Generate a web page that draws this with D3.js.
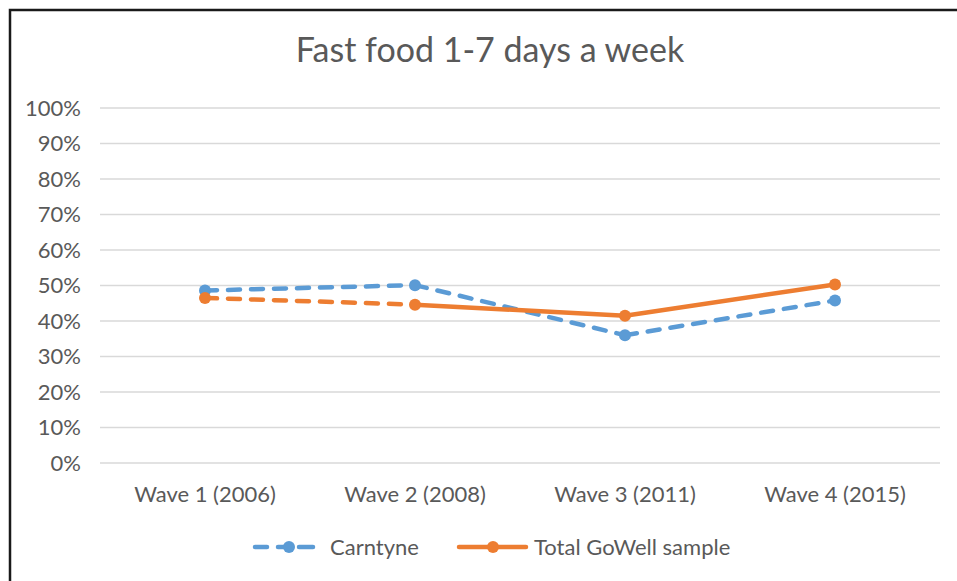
<!DOCTYPE html>
<html>
<head>
<meta charset="utf-8">
<script src="https://cdn.jsdelivr.net/npm/d3@7"></script>
<style>
  body { margin: 0; background: #fff; }
  text { font-family: Lato, "Open Sans", sans-serif; fill: #595959; }
</style>
</head>
<body>
<script>
const waves = ['Wave 1 (2006)', 'Wave 2 (2008)', 'Wave 3 (2011)', 'Wave 4 (2015)'];
const carntyne = [48.6, 50.1, 36.0, 45.8];
const totalGoWell = [46.5, 44.6, 41.5, 50.3];
const yTicks = [0, 10, 20, 30, 40, 50, 60, 70, 80, 90, 100];
const seriesNames = ['Carntyne', 'Total GoWell sample'];

const svgValues = {
    width: 957,
    height: 581,
    padding: { top: 108, bottom: 118, left: 100, right: 17 }
}

const series = [
    { name: seriesNames[0], values: carntyne, color: '#5b9bd5', dashed: [true, true, true] },
    { name: seriesNames[1], values: totalGoWell, color: '#ed7d31', dashed: [true, false, false] }
]

const svg = d3.select('body')
    .append('svg')
    .attr('width', svgValues.width)
    .attr('height', svgValues.height)

svg // border
    .append('rect')
    .attr('x', 10)
    .attr('y', 10)
    .attr('width', 1000)
    .attr('height', 1000)
    .attr('fill', 'none')
    .attr('stroke', '#1a1a1a')
    .attr('stroke-width', 2.5)

svg // title
    .append('text')
    .text('Fast food 1-7 days a week')
    .attr('text-anchor', 'middle')
    .attr('x', 490)
    .attr('y', 62)
    .style('font-size', '34px')

const xScale = d3.scaleBand()
    .domain(waves)
    .range([svgValues.padding.left, svgValues.width - svgValues.padding.right])

const yScale = d3.scaleLinear()
    .domain([0, 100])
    .range([svgValues.height - svgValues.padding.bottom, svgValues.padding.top])

svg.append('g') // gridlines
    .selectAll('line')
    .data(yTicks)
    .enter()
    .append('line')
    .attr('x1', xScale.range()[0])
    .attr('x2', xScale.range()[1])
    .attr('y1', d => yScale(d))
    .attr('y2', d => yScale(d))
    .attr('stroke', '#d9d9d9')
    .attr('stroke-width', 1.5)

const yAxis = d3.axisLeft(yScale)
    .tickValues(yTicks)
    .tickFormat(d => d + '%')
    .tickSize(0)
    .tickPadding(0)

svg.append('g')
    .attr('transform', 'translate(81,0)')
    .call(yAxis)
    .call(g => g.select('.domain').remove())
    .selectAll('text')
    .style('font-size', '22px')
    .style('font-family', null)

const xAxis = d3.axisBottom(xScale).tickSize(0).tickPadding(0)

svg.append('g')
    .attr('transform', 'translate(0,' + yScale(0) + ')')
    .call(xAxis)
    .call(g => g.select('.domain').remove())
    .selectAll('text')
    .attr('y', 39)
    .attr('dy', 0)
    .style('font-size', '22px')
    .style('font-family', null)

const cx = d => xScale(d) + xScale.bandwidth() / 2

series.forEach(s => {
    const pts = s.values.map((v, i) => [cx(waves[i]), yScale(v)])
    const g = svg.append('g')
    g.selectAll('line')
        .data(pts.slice(1))
        .enter()
        .append('line')
        .attr('x1', (d, i) => pts[i][0])
        .attr('y1', (d, i) => pts[i][1])
        .attr('x2', d => d[0])
        .attr('y2', d => d[1])
        .attr('stroke', s.color)
        .attr('stroke-width', 4.5)
        .attr('stroke-linecap', 'round')
        .attr('stroke-dasharray', (d, i) => s.dashed[i] ? '12 11' : null)
    g.selectAll('circle')
        .data(pts)
        .enter()
        .append('circle')
        .attr('cx', d => d[0])
        .attr('cy', d => d[1])
        .attr('r', 6)
        .attr('fill', s.color)
})

// legend
const legendX = [253, 457]
const legendY = 547
const legend = svg.append('g')
series.forEach((s, i) => {
    const g = legend.append('g').attr('transform', 'translate(' + legendX[i] + ',' + legendY + ')')
    if (i === 0) {
        g.selectAll('line')
            .data([[2, 14], [25, 36], [46, 60]])
            .enter()
            .append('line')
            .attr('x1', d => d[0]).attr('x2', d => d[1])
            .attr('stroke', s.color).attr('stroke-width', 4.5).attr('stroke-linecap', 'round')
    } else {
        g.append('line')
            .attr('x1', 2).attr('x2', 69)
            .attr('stroke', s.color).attr('stroke-width', 4.5).attr('stroke-linecap', 'round')
    }
    g.append('circle')
        .attr('cx', 36)
        .attr('r', 6)
        .attr('fill', s.color)
    g.append('text')
        .attr('x', i === 0 ? 77 : 77)
        .attr('dy', '0.35em')
        .style('font-size', '22px')
        .text(s.name)
})
</script>
</body>
</html>
